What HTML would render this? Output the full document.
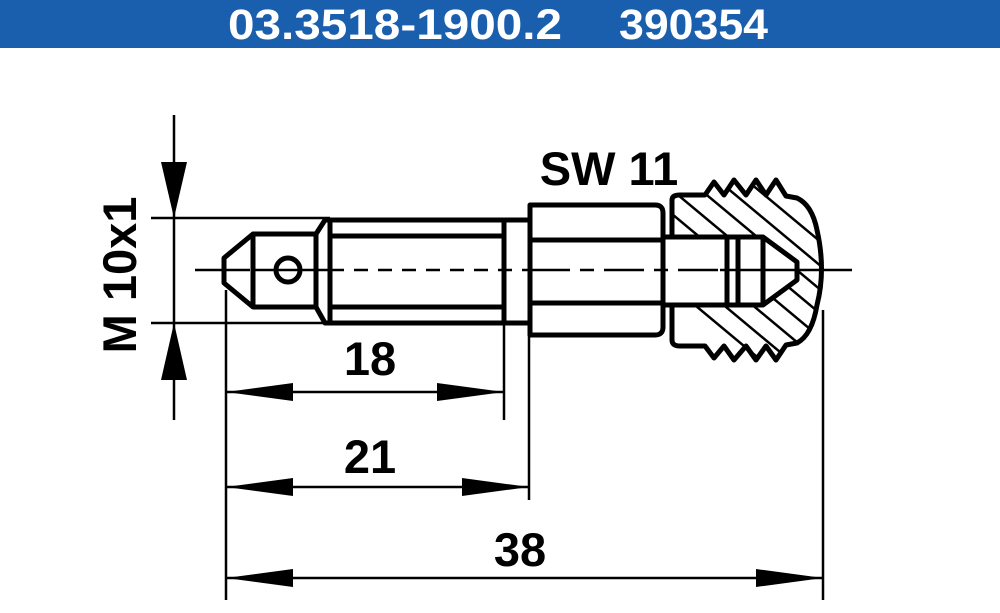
<!DOCTYPE html>
<html><head><style>
body{margin:0;width:1000px;height:608px;background:#fff;overflow:hidden}
</style></head><body>
<svg width="1000" height="608" viewBox="0 0 1000 608" xmlns="http://www.w3.org/2000/svg">
<rect x="0" y="0" width="1000" height="48" fill="#1a5fae"/>
<g font-family="Liberation Sans, sans-serif" font-weight="bold" font-size="43" fill="#fff">
<text x="228" y="39" textLength="334" lengthAdjust="spacingAndGlyphs">03.3518-1900.2</text>
<text x="619" y="39" textLength="149" lengthAdjust="spacingAndGlyphs">390354</text>
</g>
<g font-family="Liberation Sans, sans-serif" font-weight="bold" font-size="47" fill="#000" text-anchor="middle">
<text x="370" y="375">18</text>
<text x="370" y="473">21</text>
<text x="520" y="566">38</text>
<text x="609" y="185">SW 11</text>
<text transform="translate(136,275) rotate(-90)">M 10x1</text>
</g>
<g stroke="#000" fill="none">
<g stroke-width="2.5">
<line x1="174" y1="115" x2="174" y2="420"/>
<line x1="151" y1="218" x2="330" y2="218"/>
<line x1="151" y1="323" x2="330" y2="323"/>
<line x1="226" y1="290" x2="226" y2="600"/>
<line x1="504" y1="323" x2="504" y2="420"/>
<line x1="529" y1="335" x2="529" y2="500"/>
<line x1="823" y1="310" x2="823" y2="600"/>
<line x1="226" y1="392" x2="504" y2="392"/>
<line x1="226" y1="487" x2="529" y2="487"/>
<line x1="226" y1="578" x2="823" y2="578"/>
<line x1="195" y1="270" x2="250" y2="270"/>
<line x1="255" y1="270" x2="330" y2="270" />
<line x1="330" y1="270" x2="530" y2="270" stroke-dasharray="14,10"/>
<line x1="530" y1="270" x2="720" y2="270" stroke-dasharray="40,10,14,10"/>
<line x1="720" y1="270" x2="852" y2="270"/>
</g>
<g stroke-width="5" stroke-linejoin="round">
<polygon points="224,258 253,234 316,234 316,307 253,307 224,283"/>
<line x1="253" y1="234" x2="253" y2="307"/>
<circle cx="288" cy="270" r="12"/>
<polygon points="316,234 325,220 504,220 504,323 325,323 316,307"/>
<line x1="330" y1="220" x2="330" y2="323"/>
<line x1="330" y1="236" x2="504" y2="236"/>
<line x1="330" y1="307" x2="504" y2="307"/>
<line x1="504" y1="220" x2="504" y2="323"/>
<line x1="504" y1="220" x2="529" y2="220"/>
<line x1="504" y1="323" x2="529" y2="323"/>
<path d="M530,205 H655 Q663,205 663,213 V327 Q663,335 655,335 H530 Z"/>
<line x1="530" y1="240" x2="663" y2="240"/>
<line x1="530" y1="303" x2="663" y2="303"/>
<line x1="663" y1="237" x2="727" y2="237"/>
<line x1="663" y1="305" x2="727" y2="305"/>
<path id="outer" d="M672,200 Q672,195 680,195 H705 L714,182 L724,195 L734,180 L746,195 L756,180 L766,195 L776,180 L786,196 L797,198 Q812,205 817,230 Q826,270 817,305 Q812,335 797,343 L786,345 L776,360 L766,346 L756,360 L746,346 L734,360 L724,346 L714,358 L705,346 H680 Q672,346 672,340 V305"/>
<line x1="672" y1="200" x2="672" y2="237"/>
<path d="M727,237 H763 L797,262 V280 L763,305 H727 Z"/>
<line x1="738" y1="237" x2="738" y2="305"/>
<line x1="763" y1="237" x2="763" y2="305"/>
</g>
<clipPath id="hc"><path d="M672,200 Q672,195 680,195 H705 L714,182 L724,195 L734,180 L746,195 L756,180 L766,195 L776,180 L786,196 L797,198 Q812,205 817,230 Q826,270 817,305 Q812,335 797,343 L786,345 L776,360 L766,346 L756,360 L746,346 L734,360 L724,346 L714,358 L705,346 H680 Q672,346 672,340 Z M672,237 H763 L797,262 V280 L763,305 H672 Z" clip-rule="evenodd"/></clipPath>
<g clip-path="url(#hc)" stroke-width="2.5">
<path d="M660,180 L840,330 M660,204 L840,354 M660,156 L840,306 M660,132 L840,282 M660,108 L840,258 M660,228 L840,378 M660,84 L840,234 M660,252 L840,402 M660,60 L840,210 M660,276 L840,426 M660,36 L840,186"/>
</g>
</g>
<g fill="#000">
<polygon points="174,218 161,162 187,162"/>
<polygon points="174,323 161,380 187,380"/>
<polygon points="226,392 293,383 293,401"/>
<polygon points="504,392 437,383 437,401"/>
<polygon points="226,487 293,478 293,496"/>
<polygon points="529,487 462,478 462,496"/>
<polygon points="226,578 293,569 293,587"/>
<polygon points="823,578 756,569 756,587"/>
</g>
</svg>
</body></html>
